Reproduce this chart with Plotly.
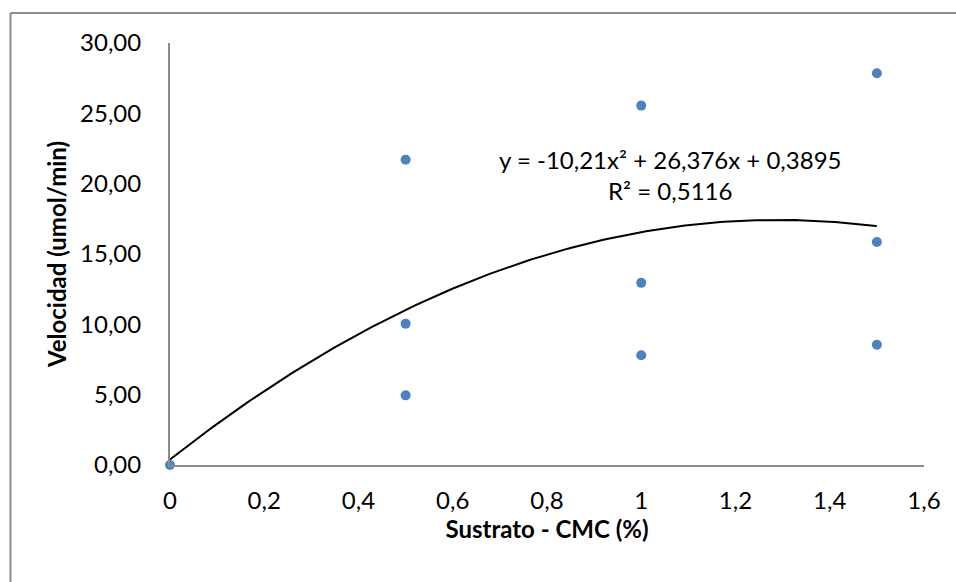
import numpy as np
import plotly.graph_objects as go

# Data
sustrato = [0, 0.5, 0.5, 0.5, 1, 1, 1, 1.5, 1.5, 1.5]
velocidad = [0.0, 21.7, 10.05, 4.95, 25.55, 12.95, 7.8, 27.85, 15.85, 8.55]
trend_coef = [-10.21, 26.376, 0.3895]  # a*x^2 + b*x + c (from chart label)
x_ticks = [0, 0.2, 0.4, 0.6, 0.8, 1.0, 1.2, 1.4, 1.6]
x_ticktext = ["0", "0,2", "0,4", "0,6", "0,8", "1", "1,2", "1,4", "1,6"]
y_ticks = [0, 5, 10, 15, 20, 25, 30]
y_ticktext = ["0,00", "5,00", "10,00", "15,00", "20,00", "25,00", "30,00"]
eq_text = "y = -10,21x² + 26,376x + 0,3895<br>R² = 0,5116"

FONT = "Lato"
GRAY = "#8c8c8c"

xt = np.linspace(0, 1.5, 200)
yt = np.polyval(trend_coef, xt)

fig = go.Figure()
fig.add_trace(go.Scatter(x=xt, y=yt, mode="lines",
                         line=dict(color="black", width=2),
                         hoverinfo="skip", cliponaxis=False))
fig.add_trace(go.Scatter(x=sustrato, y=velocidad, mode="markers",
                         marker=dict(color="#4F81BD", size=10),
                         cliponaxis=False))

W, H = 956, 582
L, R, T, B = 170, 32, 43, 117
pw, ph = W - L - R, H - T - B

def px(xpix):
    return (xpix - L) / pw

def py(ypix):
    return 1 - (ypix - T) / ph

fig.update_layout(
    width=W, height=H,
    margin=dict(l=L, r=R, t=T, b=B),
    paper_bgcolor="white", plot_bgcolor="white",
    showlegend=False,
    font=dict(family=FONT, size=24, color="black"),
    xaxis=dict(range=[0, 1.6], tickvals=x_ticks, ticktext=x_ticktext,
               showgrid=False, zeroline=False, showline=True,
               linecolor=GRAY, linewidth=2, ticks="",
               ticklabelstandoff=13,
               tickfont=dict(family=FONT, size=24),
               title=dict(text="<b>Sustrato - CMC (%)</b>",
                          font=dict(family=FONT, size=24), standoff=8)),
    yaxis=dict(range=[0, 30], tickvals=y_ticks, ticktext=y_ticktext,
               showgrid=False, zeroline=False, showline=True,
               linecolor=GRAY, linewidth=2, ticks="",
               ticklabelstandoff=22,
               tickfont=dict(family=FONT, size=24),
               title=dict(text="<b>Velocidad (umol/min)</b>",
                          font=dict(family=FONT, size=24), standoff=7)),
    annotations=[dict(x=1.061, y=20.65, xref="x", yref="y", text=eq_text,
                      showarrow=False, align="center",
                      font=dict(family=FONT, size=24, color="black"))],
    shapes=[
        dict(type="line", xref="paper", yref="paper",
             x0=px(10.5), x1=px(970), y0=py(13), y1=py(13),
             line=dict(color=GRAY, width=2)),
        dict(type="line", xref="paper", yref="paper",
             x0=px(10.5), x1=px(10.5), y0=py(13), y1=py(600),
             line=dict(color=GRAY, width=2)),
    ],
)

fig.write_html("out.html")
